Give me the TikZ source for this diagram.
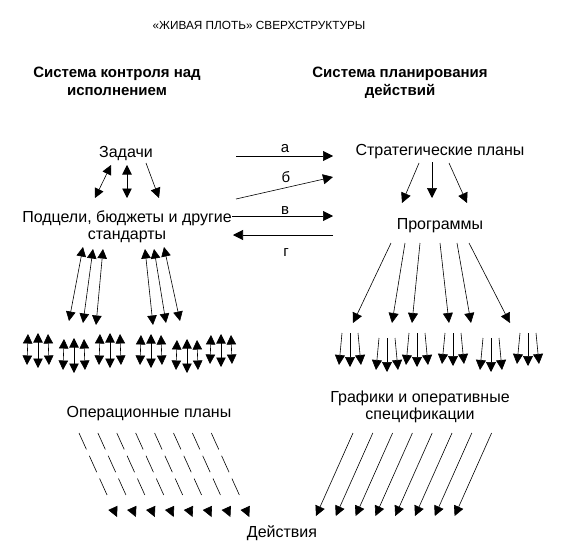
\documentclass[tikz,border=0pt]{standalone}
\usepackage{fontspec}
\setmainfont{Liberation Sans}
\usetikzlibrary{arrows.meta}
\tikzset{
  txt/.style     = {inner sep=0pt, anchor=base, align=center,
                    font=\fontsize{16}{17}\selectfont},
  hdr/.style     = {txt, font=\bfseries\fontsize{15}{18}\selectfont},
  titl/.style    = {txt, font=\fontsize{11.8}{13}\selectfont},
  lettr/.style   = {txt, font=\fontsize{15}{17}\selectfont},
  arr/.style     = {-{Triangle[length=10pt,width=10pt]}, line width=0.6pt},
  darr/.style    = {{Triangle[length=9.5pt,width=9.5pt]}-{Triangle[length=9.5pt,width=9.5pt]},
                    line width=0.6pt},
  dasharr/.style = {arr, dash pattern=on 18pt off 7pt on 18pt off 7pt on 18pt off 40pt}
}

\begin{document}
\begin{tikzpicture}[x=1pt,y=-1pt]
  \useasboundingbox (0,0) rectangle (564,551);

  \node[titl] (title) at (259,30) {«ЖИВАЯ ПЛОТЬ» СВЕРХСТРУКТУРЫ};
  \node[hdr] (ctrl) at (117,95) {Система контроля над\\исполнением};
  \node[hdr] (plan) at (400,95) {Система планирования\\действий};

  \node[txt] (zad)   at (126,157) {Задачи};
  \node[txt] (podc)  at (127,239) {Подцели, бюджеты и другие\\стандарты};
  \node[txt] (strat) at (440,155) {Стратегические планы};
  \node[txt] (prog)  at (440,229) {Программы};
  \node[txt] (oper)  at (149,417) {Операционные планы};
  \node[txt] (graf)  at (420,419) {Графики и оперативные\\спецификации};
  \node[txt] (deist) at (282,537) {Действия};

  \coordinate (z1t) at (111,165); \coordinate (z1b) at (95,198);
  \coordinate (z2t) at (127,165); \coordinate (z2b) at (127,198);
  \coordinate (z3t) at (146,163); \coordinate (z3b) at (159,198);
  \draw[darr] (z1t) -- (z1b);
  \draw[darr] (z2t) -- (z2b);
  \draw[arr]  (z3t) -- (z3b);

  \coordinate (s1t) at (419,163); \coordinate (s1b) at (402,203);
  \coordinate (s2t) at (432,162); \coordinate (s2b) at (432,198);
  \coordinate (s3t) at (449,163); \coordinate (s3b) at (467,203);
  \draw[arr] (s1t) -- (s1b);
  \draw[arr] (s2t) -- (s2b);
  \draw[arr] (s3t) -- (s3b);

  \coordinate (aL) at (236,156); \coordinate (aR) at (333,156);
  \coordinate (bL) at (236,199); \coordinate (bR) at (333,177);
  \coordinate (vL) at (232,216); \coordinate (vR) at (333,216);
  \coordinate (gL) at (233,235); \coordinate (gR) at (333,235);
  \draw[arr] (aL) -- (aR);
  \draw[arr] (bL) -- (bR);
  \draw[arr] (vL) -- (vR);
  \draw[arr] (gR) -- (gL);
  \node[lettr] (la) at (285,152) {а};
  \node[lettr] (lb) at (286,182) {б};
  \node[lettr] (lv) at (285,214) {в};
  \node[lettr] (lg) at (286,256) {г};

  \foreach \i/\tx/\ty/\bx/\by in {1/83/247/69/321, 2/93/249/83/323, 3/103/249/96/325,
                                  4/145/249/153/325, 5/154/249/166/323, 6/164/247/180/321} {
    \coordinate (pt\i) at (\tx,\ty);
    \coordinate (pb\i) at (\bx,\by);
    \draw[darr] (pt\i) -- (pb\i);
  }

  \foreach \i/\tx/\bx in {1/391/353, 2/405/392, 3/420/412, 4/440/449, 5/457/471, 6/469/510} {
    \coordinate (rt\i) at (\tx,243);
    \coordinate (rb\i) at (\bx,323);
    \draw[arr] (rt\i) -- (rb\i);
  }

  \foreach \c/\cx/\yt/\yb in {1/38/333/366, 2/74/338/371, 3/110/333/366,
                              4/151/334/366, 5/187/339/371, 6/221/334/365} {
    \coordinate (lk\c at) at (\cx-10,\yt+1); \coordinate (lk\c ab) at (\cx-11,\yb-1);
    \coordinate (lk\c bt) at (\cx,\yt);      \coordinate (lk\c bb) at (\cx,\yb+2);
    \coordinate (lk\c ct) at (\cx+10,\yt+1); \coordinate (lk\c cb) at (\cx+11,\yb-1);
    \draw[darr] (lk\c at) -- (lk\c ab);
    \draw[darr] (lk\c bt) -- (lk\c bb);
    \draw[darr] (lk\c ct) -- (lk\c cb);
  }

  \foreach \c/\cx/\yt/\yb in {1/350/333/365, 2/387/338/370, 3/417/333/365,
                              4/453/333/364, 5/491/338/370, 6/528/333/364} {
    \coordinate (rk\c at) at (\cx-8,\yt); \coordinate (rk\c ab) at (\cx-11,\yb);
    \coordinate (rk\c bt) at (\cx,\yt);   \coordinate (rk\c bb) at (\cx,\yb+2);
    \coordinate (rk\c ct) at (\cx+8,\yt); \coordinate (rk\c cb) at (\cx+11,\yb);
    \draw[arr] (rk\c at) -- (rk\c ab);
    \draw[arr] (rk\c bt) -- (rk\c bb);
    \draw[arr] (rk\c ct) -- (rk\c cb);
  }

  \foreach \i in {0,...,7} {
    \coordinate (ot\i) at (79+18.9*\i,433);
    \coordinate (ob\i) at (117+18.9*\i,517);
    \draw[dasharr] (ot\i) -- (ob\i);
    \coordinate (gt\i) at (353+19.8*\i,433);
    \coordinate (gb\i) at (316+19.8*\i,516);
    \draw[arr] (gt\i) -- (gb\i);
  }
\end{tikzpicture}
\end{document}
